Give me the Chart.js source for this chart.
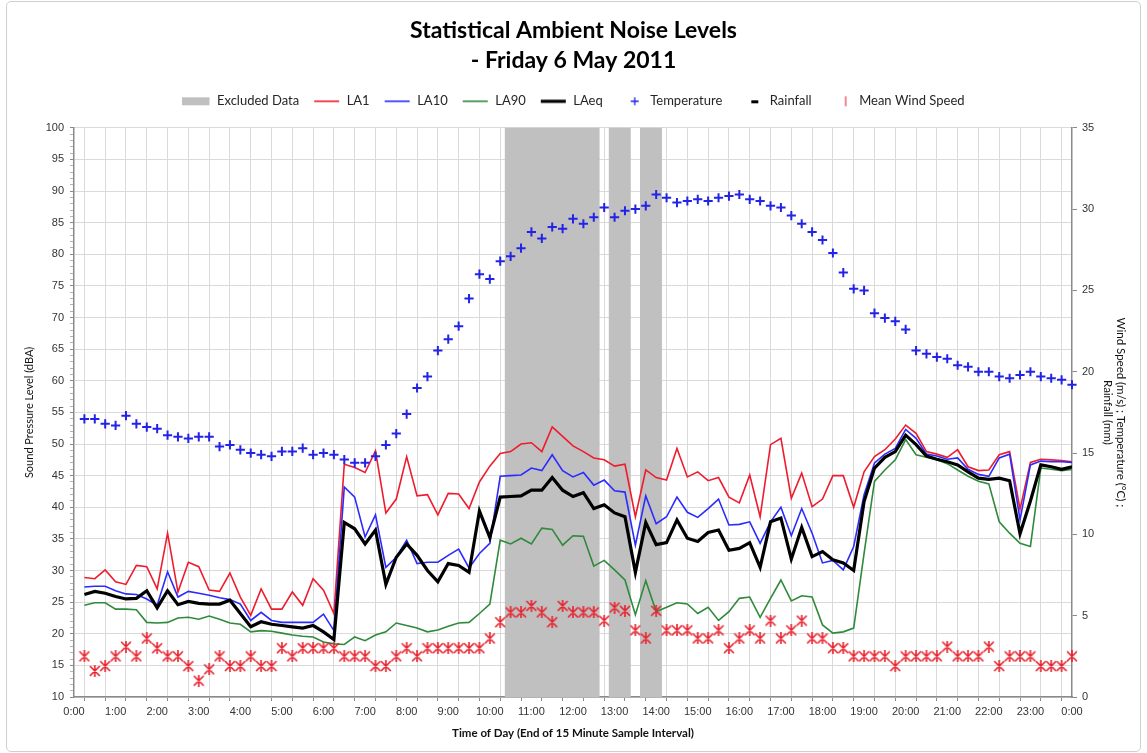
<!DOCTYPE html>
<html>
<head>
<meta charset="utf-8">
<title>Statistical Ambient Noise Levels - Friday 6 May 2011</title>
<script src="https://cdn.jsdelivr.net/npm/chart.js@4.4.1/dist/chart.umd.min.js"></script>
<style>
  html, body { margin: 0; padding: 0; background: #ffffff; }
  #wrap { position: relative; width: 1147px; height: 753px; }
  #frame { position: absolute; left: 6px; top: 1px; width: 1133px; height: 749px;
           border: 1px solid #cfcfcf; border-radius: 5px; pointer-events: none; }
  canvas { display: block; }
</style>
</head>
<body>
<div id="wrap">
  <canvas id="noiseChart" width="1147" height="753"></canvas>
  <div id="frame"></div>
</div>
<script>
// End of each 15-minute sample interval, in hours (0:15 ... 24:00)
const intervalEnd = Array.from({ length: 96 }, (_, i) => (i + 1) / 4);

// Hour tick labels along the time axis
const hourLabels = ['0:00', '1:00', '2:00', '3:00', '4:00', '5:00', '6:00', '7:00', '8:00',
  '9:00', '10:00', '11:00', '12:00', '13:00', '14:00', '15:00', '16:00', '17:00', '18:00',
  '19:00', '20:00', '21:00', '22:00', '23:00', '0:00'];

// Intervals excluded from the assessment (interval end times)
const excludedIntervals = ['10:30', '10:45', '11:00', '11:15', '11:30', '11:45', '12:00',
  '12:15', '12:30', '13:00', '13:15', '13:45', '14:00'];

// Statistical noise levels, dBA
const la1 = [
  28.9, 28.7, 30.1, 28.2, 27.8, 30.8, 30.6, 27.1, 35.9, 26.6,
  31.3, 30.6, 26.9, 26.7, 29.6, 25.8, 22.9, 27.1, 23.9, 23.9,
  26.6, 24.5, 28.7, 26.9, 23.2, 46.8, 46.3, 45.5, 48.9, 39.1,
  41.3, 48.0, 41.8, 42.0, 38.8, 42.2, 42.1, 39.8, 44.0, 46.5,
  48.5, 48.8, 50.0, 50.2, 48.8, 52.7, 51.2, 49.7, 48.8, 47.8,
  47.5, 46.5, 46.8, 38.5, 45.9, 44.7, 44.3, 49.3, 44.8, 45.6,
  44.2, 44.7, 41.6, 40.7, 45.1, 38.5, 49.9, 50.9, 41.4, 45.4,
  40.1, 41.3, 45.0, 45.0, 40.0, 45.6, 48.0, 49.1, 50.8, 53.0,
  51.7, 48.8, 48.4, 47.9, 49.1, 46.4, 45.8, 45.9, 48.3, 48.8,
  39.7, 47.1, 47.6, 47.5, 47.4, 47.2];

const la10 = [
  27.4, 27.5, 27.5, 26.8, 26.3, 26.2, 25.5, 24.5, 29.8, 25.8,
  26.7, 26.4, 26.1, 25.7, 25.4, 24.7, 22.1, 23.4, 22.1, 21.8,
  21.8, 21.8, 21.8, 23.1, 20.5, 43.2, 41.6, 35.3, 38.8, 30.5,
  32.1, 34.8, 31.1, 31.3, 31.3, 32.4, 33.4, 30.4, 32.7, 34.3,
  44.9, 45.0, 45.1, 46.2, 45.8, 48.3, 45.8, 44.8, 45.5, 43.5,
  44.3, 42.6, 42.4, 34.0, 41.8, 37.4, 38.5, 41.6, 39.2, 38.4,
  39.8, 41.3, 37.2, 37.3, 37.7, 34.3, 37.7, 40.0, 35.5, 39.8,
  35.9, 31.2, 31.6, 30.1, 33.8, 42.0, 47.0, 48.4, 49.3, 52.3,
  50.9, 48.4, 48.1, 47.6, 47.8, 46.0, 45.2, 44.9, 47.8, 48.4,
  38.0, 46.7, 47.3, 47.2, 47.2, 47.1];

const la90 = [
  24.5, 24.9, 24.9, 23.9, 23.9, 23.8, 21.8, 21.7, 21.8, 22.5,
  22.6, 22.3, 22.8, 22.3, 21.7, 21.5, 20.3, 20.5, 20.4, 20.1,
  19.8, 19.6, 19.5, 18.7, 18.4, 18.3, 19.5, 18.9, 19.8, 20.3,
  21.7, 21.3, 20.9, 20.3, 20.6, 21.2, 21.7, 21.8, 23.2, 24.7,
  34.8, 34.2, 35.1, 34.2, 36.7, 36.5, 34.0, 35.5, 35.4, 30.7,
  31.6, 30.1, 28.5, 23.0, 28.4, 23.5, 24.2, 24.9, 24.7, 23.2,
  24.2, 22.1, 23.5, 25.6, 25.8, 22.6, 25.6, 28.5, 25.2, 26.0,
  25.8, 21.4, 20.1, 20.3, 20.9, 32.7, 44.1, 45.9, 47.5, 50.7,
  48.3, 47.9, 47.5, 46.9, 45.9, 44.9, 44.1, 43.7, 37.7, 35.9,
  34.3, 33.8, 46.2, 46.0, 45.8, 46.0];

const laeq = [
  26.2, 26.7, 26.4, 25.9, 25.5, 25.6, 26.8, 24.1, 26.8, 24.6,
  25.1, 24.8, 24.7, 24.7, 25.3, 23.2, 21.1, 21.9, 21.5, 21.3,
  21.1, 20.9, 21.3, 20.3, 19.1, 37.6, 36.6, 34.2, 36.4, 27.8,
  32.1, 34.2, 32.4, 30.0, 28.2, 31.1, 30.8, 29.7, 39.4, 35.2,
  41.6, 41.7, 41.8, 42.7, 42.7, 44.7, 42.7, 41.7, 42.3, 39.8,
  40.4, 39.1, 38.5, 29.7, 37.6, 34.1, 34.4, 38.0, 35.1, 34.6,
  36.0, 36.4, 33.2, 33.5, 34.4, 30.5, 37.7, 38.3, 31.8, 36.8,
  32.2, 33.0, 31.7, 31.2, 30.0, 40.9, 46.2, 47.9, 48.8, 51.4,
  49.9, 48.1, 47.6, 47.2, 46.7, 45.6, 44.6, 44.4, 44.6, 44.2,
  35.8, 41.0, 46.7, 46.4, 46.0, 46.4];

// Weather, right-hand axis
const temperature = [
  17.1, 17.1, 16.8, 16.7, 17.3, 16.8, 16.6, 16.5, 16.1, 16.0,
  15.9, 16.0, 16.0, 15.4, 15.5, 15.2, 15.0, 14.9, 14.8, 15.1,
  15.1, 15.3, 14.9, 15.0, 14.9, 14.6, 14.4, 14.4, 14.8, 15.5,
  16.2, 17.4, 19.0, 19.7, 21.3, 22.0, 22.8, 24.5, 26.0, 25.7,
  26.8, 27.1, 27.6, 28.6, 28.2, 28.9, 28.8, 29.4, 29.1, 29.5,
  30.1, 29.5, 29.9, 30.0, 30.2, 30.9, 30.7, 30.4, 30.5, 30.6,
  30.5, 30.7, 30.8, 30.9, 30.6, 30.5, 30.2, 30.1, 29.6, 29.1,
  28.6, 28.1, 27.3, 26.1, 25.1, 25.0, 23.6, 23.3, 23.1, 22.6,
  21.3, 21.1, 20.9, 20.8, 20.4, 20.3, 20.0, 20.0, 19.7, 19.6,
  19.8, 20.0, 19.7, 19.6, 19.5, 19.2];

const windSpeed = [
  2.5, 1.6, 1.9, 2.5, 3.1, 2.5, 3.6, 3.0, 2.5, 2.5,
  1.9, 1.0, 1.7, 2.5, 1.9, 1.9, 2.5, 1.9, 1.9, 3.0,
  2.5, 3.0, 3.0, 3.0, 3.0, 2.5, 2.5, 2.5, 1.9, 1.9,
  2.5, 3.0, 2.5, 3.0, 3.0, 3.0, 3.0, 3.0, 3.0, 3.6,
  4.6, 5.2, 5.2, 5.6, 5.2, 4.6, 5.6, 5.2, 5.2, 5.2,
  4.7, 5.5, 5.3, 4.1, 3.6, 5.3, 4.1, 4.1, 4.1, 3.6,
  3.6, 4.1, 3.0, 3.6, 4.1, 3.6, 4.7, 3.6, 4.1, 4.7,
  3.6, 3.6, 3.0, 3.0, 2.5, 2.5, 2.5, 2.5, 1.9, 2.5,
  2.5, 2.5, 2.5, 3.1, 2.5, 2.5, 2.5, 3.1, 1.9, 2.5,
  2.5, 2.5, 1.9, 1.9, 1.9, 2.5];

// No rainfall was recorded on the day
const rainfall = [];

// ---------------------------------------------------------------------------
const COLORS = {
  excluded: '#c0c0c0',
  la1: '#ee1c2e',
  la10: '#2b2bff',
  la90: '#2f8a3a',
  laeq: '#000000',
  temp: '#2323e6',
  wind: '#e8202c',
  grid: '#dadada',
  axis: '#8a8a8a',
  text: '#262626'
};

const toHours = t => { const [h, m] = t.split(':').map(Number); return h + m / 60; };
const xy = values => values.map((v, i) => ({ x: intervalEnd[i], y: v }));

function makeCanvas(w, h, draw) {
  const c = document.createElement('canvas');
  c.width = w; c.height = h;
  draw(c.getContext('2d'), w, h);
  return c;
}

// Asterisk-style marker used for the wind speed samples
const windMarker = makeCanvas(12, 12, (g, w, h) => {
  g.strokeStyle = COLORS.wind; g.lineWidth = 1.6; g.lineCap = 'round';
  g.beginPath();
  g.moveTo(1.5, 1.5); g.lineTo(w - 1.5, h - 1.5);
  g.moveTo(w - 1.5, 1.5); g.lineTo(1.5, h - 1.5);
  g.moveTo(w / 2, 0.5); g.lineTo(w / 2, h - 0.5);
  g.stroke();
});

// Legend symbols
const LW = 28, LH = 14;
const legendLine = (color, width) => makeCanvas(LW, LH, g => {
  g.strokeStyle = color; g.lineWidth = width;
  g.beginPath(); g.moveTo(2, LH / 2); g.lineTo(LW - 1, LH / 2); g.stroke();
});
const legendEntries = [
  { text: 'Excluded Data', symbol: makeCanvas(LW, LH, g => { g.fillStyle = COLORS.excluded; g.fillRect(0, 3, LW - 1, 8); }) },
  { text: 'LA1', symbol: legendLine(COLORS.la1, 1.6) },
  { text: 'LA10', symbol: legendLine(COLORS.la10, 1.6) },
  { text: 'LA90', symbol: legendLine(COLORS.la90, 1.6) },
  { text: 'LAeq', symbol: legendLine(COLORS.laeq, 3.2) },
  { text: 'Temperature', symbol: makeCanvas(LW, LH, g => {
      g.strokeStyle = COLORS.temp; g.lineWidth = 1.3; g.beginPath();
      g.moveTo(15, 7); g.lineTo(23, 7); g.moveTo(19, 3); g.lineTo(19, 11); g.stroke(); }) },
  { text: 'Rainfall', symbol: makeCanvas(LW, LH, g => { g.fillStyle = '#000'; g.fillRect(16, 6, 7, 3); }) },
  { text: 'Mean Wind Speed', symbol: makeCanvas(LW, LH, g => { g.fillStyle = '#f28a92'; g.fillRect(20, 2, 2, 10); }) }
];

const tickFont = { family: "'Liberation Sans', Arial, sans-serif", size: 11 };

const chart = new Chart(document.getElementById('noiseChart'), {
  type: 'line',
  data: {
    datasets: [
      {
        type: 'bar', label: 'Excluded Data', order: 10,
        data: excludedIntervals.map(t => ({ x: toHours(t), y: [10, 100] })),
        backgroundColor: COLORS.excluded, borderWidth: 0,
        barPercentage: 1, categoryPercentage: 1, inflateAmount: 0.6,
        xAxisID: 'x', yAxisID: 'y'
      },
      { label: 'LA1', order: 6, data: xy(la1), borderColor: COLORS.la1, borderWidth: 1.6, pointRadius: 0, xAxisID: 'x', yAxisID: 'y' },
      { label: 'LA10', order: 5, data: xy(la10), borderColor: COLORS.la10, borderWidth: 1.6, pointRadius: 0, xAxisID: 'x', yAxisID: 'y' },
      { label: 'LA90', order: 4, data: xy(la90), borderColor: COLORS.la90, borderWidth: 1.6, pointRadius: 0, xAxisID: 'x', yAxisID: 'y' },
      { label: 'LAeq', order: 3, data: xy(laeq), borderColor: COLORS.laeq, borderWidth: 3.2, pointRadius: 0, xAxisID: 'x', yAxisID: 'y' },
      {
        label: 'Temperature', order: 2, data: xy(temperature), showLine: false,
        pointStyle: 'cross', pointRadius: 4.6, pointBorderWidth: 2,
        borderColor: COLORS.temp, backgroundColor: COLORS.temp, clip: false,
        xAxisID: 'x', yAxisID: 'y2'
      },
      {
        label: 'Rainfall', order: 1, data: rainfall, showLine: false,
        pointStyle: 'dash', pointRadius: 4, borderColor: '#000', xAxisID: 'x', yAxisID: 'y2'
      },
      {
        label: 'Mean Wind Speed', order: 0, data: xy(windSpeed), showLine: false,
        pointStyle: windMarker, pointRadius: 5, clip: false,
        borderColor: COLORS.wind, backgroundColor: COLORS.wind,
        xAxisID: 'x', yAxisID: 'y2'
      }
    ]
  },
  options: {
    responsive: false,
    animation: false,
    events: [],
    devicePixelRatio: 1,
    elements: { line: { tension: 0, fill: false } },
    layout: { padding: { left: 8, right: 8, top: 6, bottom: 4 } },
    plugins: {
      tooltip: { enabled: false },
      title: {
        display: true,
        text: ['Statistical Ambient Noise Levels', '- Friday 6 May 2011'],
        color: '#000',
        font: { family: 'Lato', size: 23, weight: 'bold', lineHeight: 1.3 },
        padding: { top: 10, bottom: 6 }
      },
      legend: {
        display: true,
        position: 'top',
        labels: {
          usePointStyle: true,
          pointStyleWidth: LW,
          padding: 13,
          color: COLORS.text,
          font: { family: 'Lato', size: 13 },
          generateLabels: () => legendEntries.map((e, i) => ({
            text: e.text, pointStyle: e.symbol, datasetIndex: i, hidden: false,
            lineWidth: 0, fontColor: COLORS.text, fillStyle: 'transparent', strokeStyle: 'transparent'
          }))
        }
      }
    },
    scales: {
      x: {
        type: 'linear', position: 'bottom', min: 0, max: 24, offset: false,
        afterFit: s => { s.height = 52; },
        grid: { color: COLORS.grid, lineWidth: 1, tickLength: 4, tickColor: COLORS.axis },
        border: { color: COLORS.axis, width: 1.5 },
        ticks: {
          stepSize: 0.5, autoSkip: false, maxRotation: 0, padding: 4,
          color: '#333', font: tickFont,
          callback: v => Number.isInteger(v) ? hourLabels[v] : ''
        },
        title: {
          display: true, text: 'Time of Day (End of 15 Minute Sample Interval)',
          color: '#111', font: { family: 'Lato', size: 11.5, weight: 'bold' },
          padding: { top: 0, bottom: 9 }
        }
      },
      spacer: {
        type: 'linear', position: 'top', min: 0, max: 1, display: true,
        afterFit: s => { s.height = 10; },
        grid: { display: false, drawTicks: false }, border: { display: false },
        ticks: { display: false }
      },
      y: {
        type: 'linear', position: 'left', min: 10, max: 100,
        afterFit: s => { s.width = 66; },
        grid: {
          color: c => (c.tick && c.tick.value % 5 === 0) ? COLORS.grid : 'rgba(0,0,0,0)',
          tickColor: c => (c.tick && c.tick.value % 5 === 0) ? COLORS.axis : '#b4b4b4',
          tickLength: 4
        },
        border: { color: COLORS.axis, width: 1.5 },
        ticks: {
          stepSize: 1, autoSkip: false, padding: 6, color: '#333', font: tickFont,
          callback: v => v % 5 === 0 ? String(v) : ''
        },
        title: {
          display: true, text: 'Sound Pressure Level (dBA)', color: '#111',
          font: { family: 'Lato', size: 11 }, padding: { top: 15, bottom: 0 }
        }
      },
      y2: {
        type: 'linear', position: 'right', min: 0, max: 35,
        afterFit: s => { s.width = 67; },
        grid: { drawOnChartArea: false, tickLength: 5, tickColor: COLORS.axis },
        border: { color: COLORS.axis, width: 1.5 },
        ticks: { stepSize: 5, padding: 5, color: '#333', font: tickFont },
        title: {
          display: true,
          text: ['Wind Speed (m/s) ; Temperature (°C) ;', 'Rainfall (mm)'],
          color: '#111', font: { family: 'Lato', size: 11.5 }, padding: { top: 11, bottom: 0 }
        }
      }
    }
  }
});
</script>
</body>
</html>
